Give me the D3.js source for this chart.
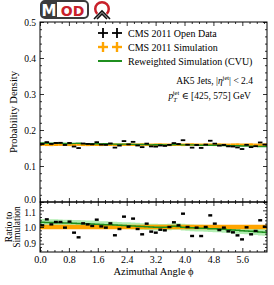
<!DOCTYPE html>
<html>
<head>
<meta charset="utf-8">
<script src="https://cdn.jsdelivr.net/npm/d3@7"></script>
<style>
body { margin: 0; background: #fff; }
svg { display: block; }
text { font-family: "Liberation Serif", "DejaVu Serif", serif; fill: #000; }
</style>
</head>
<body>
<svg id="chart" width="274" height="285"></svg>
<script>
const chart = d3.select("#chart");

// histogram: 50 bins over [0, 2pi]
const binCount = 50;
const phiMax = 2 * Math.PI;

const simDensity = [
	0.1595, 0.1590, 0.1588, 0.1592, 0.1596, 0.1591, 0.1589, 0.1594, 0.1597, 0.1590,
	0.1588, 0.1593, 0.1591, 0.1589, 0.1595, 0.1592, 0.1590, 0.1587, 0.1593, 0.1596,
	0.1591, 0.1589, 0.1594, 0.1590, 0.1588, 0.1592, 0.1595, 0.1590, 0.1587, 0.1591,
	0.1594, 0.1589, 0.1592, 0.1596, 0.1590, 0.1588, 0.1593, 0.1591, 0.1589, 0.1594,
	0.1590, 0.1587, 0.1592, 0.1595, 0.1589, 0.1591, 0.1594, 0.1588, 0.1590, 0.1593
];
const dataDensity = [
	0.1611, 0.1663, 0.1613, 0.1640, 0.1644, 0.1585, 0.1640, 0.1540, 0.1498, 0.1625,
	0.1613, 0.1603, 0.1661, 0.1595, 0.1589, 0.1627, 0.1511, 0.1568, 0.1692, 0.1599,
	0.1671, 0.1570, 0.1524, 0.1622, 0.1544, 0.1538, 0.1569, 0.1558, 0.1587, 0.1636,
	0.1610, 0.1716, 0.1592, 0.1510, 0.1584, 0.1502, 0.1593, 0.1702, 0.1621, 0.1565,
	0.1584, 0.1546, 0.1541, 0.1515, 0.1471, 0.1588, 0.1524, 0.1550, 0.1654, 0.1596
];
const reweightedDensity = [
	0.1640, 0.1633, 0.1631, 0.1633, 0.1636, 0.1629, 0.1627, 0.1629, 0.1631, 0.1622,
	0.1618, 0.1622, 0.1618, 0.1613, 0.1617, 0.1613, 0.1609, 0.1603, 0.1607, 0.1609,
	0.1601, 0.1597, 0.1599, 0.1593, 0.1588, 0.1590, 0.1592, 0.1587, 0.1587, 0.1597,
	0.1599, 0.1587, 0.1587, 0.1588, 0.1580, 0.1577, 0.1580, 0.1575, 0.1572, 0.1575,
	0.1568, 0.1562, 0.1563, 0.1563, 0.1554, 0.1553, 0.1553, 0.1544, 0.1542, 0.1542
];
const dataErr = 0.0012;
const simErr = 0.0021;
const reweightedErr = 0.0032;

const xTicks = [0, 0.8, 1.6, 2.4, 3.2, 4.0, 4.8, 5.6];
const yTicks = [0, 0.1, 0.2, 0.3, 0.4, 0.5];
const ratioTicks = [0.9, 1.0, 1.1];
const legendLabels = ["CMS 2011 Open Data", "CMS 2011 Simulation", "Reweighted Simulation (CVU)"];

const left = 40, right = 267, mainTop = 22, mainBottom = 202, ratioBottom = 252;
const orange = "#ffa500", green = "#1f8f1f", lightGreen = "#9de89d";

const x = d3.scaleLinear().domain([0, phiMax]).range([left, right]);
const y = d3.scaleLinear().domain([0, 0.5]).range([mainBottom, mainTop]);
const yr = d3.scaleLinear().domain([0.85, 1.15]).range([ratioBottom, mainBottom]);

const edges = d3.range(binCount + 1).map(i => i * phiMax / binCount);
const bins = simDensity.map((s, i) => ({
	x0: edges[i], x1: edges[i + 1], xc: (edges[i] + edges[i + 1]) / 2,
	sim: s, data: dataDensity[i], rew: reweightedDensity[i]
}));

// clip paths
const defs = chart.append("defs");
defs.append("clipPath").attr("id", "clipMain").append("rect")
	.attr("x", left).attr("y", mainTop).attr("width", right - left).attr("height", mainBottom - mainTop);
defs.append("clipPath").attr("id", "clipRatio").append("rect")
	.attr("x", left).attr("y", mainBottom).attr("width", right - left).attr("height", ratioBottom - mainBottom);

// ---- main panel ----
const main = chart.append("g").attr("clip-path", "url(#clipMain)");

function crosses(g, key, err, color, hw, vw) {
	const sel = g.append("g").selectAll("g").data(bins).enter().append("g");
	sel.append("line")
		.attr("x1", d => x(d.x0)).attr("x2", d => x(d.x1))
		.attr("y1", d => y(d[key])).attr("y2", d => y(d[key]))
		.attr("stroke", color).attr("stroke-width", hw);
	sel.append("line")
		.attr("x1", d => x(d.xc)).attr("x2", d => x(d.xc))
		.attr("y1", d => y(d[key] - err)).attr("y2", d => y(d[key] + err))
		.attr("stroke", color).attr("stroke-width", vw);
}

crosses(main, "sim", simErr, orange, 2.6, 1.6);

const stepPts = key => bins.flatMap(d => [[d.x0, d[key]], [d.x1, d[key]]]);
main.append("path")
	.attr("d", d3.line().x(p => x(p[0])).y(p => y(p[1]))(stepPts("rew")))
	.attr("fill", "none").attr("stroke", green).attr("stroke-width", 1.4);

crosses(main, "data", dataErr, "#000", 1.8, 1.2);

// ---- ratio panel ----
const ratio = chart.append("g").attr("clip-path", "url(#clipRatio)");
const ratioPts = bins.flatMap(d => [
	{ x: d.x0, rew: d.rew / d.sim, rerr: reweightedErr / d.sim, serr: simErr / d.sim },
	{ x: d.x1, rew: d.rew / d.sim, rerr: reweightedErr / d.sim, serr: simErr / d.sim }
]);

ratio.append("path")
	.attr("d", d3.area().x(p => x(p.x)).y0(p => yr(p.rew - p.rerr)).y1(p => yr(p.rew + p.rerr))(ratioPts))
	.attr("fill", lightGreen).attr("opacity", 0.8);

ratio.append("path")
	.attr("d", d3.area().x(p => x(p.x)).y0(p => yr(1 - p.serr)).y1(p => yr(1 + p.serr))(ratioPts))
	.attr("fill", orange);

ratio.append("path")
	.attr("d", d3.line().x(p => x(p.x)).y(p => yr(p.rew))(ratioPts))
	.attr("fill", "none").attr("stroke", green).attr("stroke-width", 1.5);

ratio.append("g").selectAll("rect").data(bins).enter().append("rect")
	.attr("x", d => x(d.x0) + 0.3)
	.attr("width", d => x(d.x1) - x(d.x0) - 0.6)
	.attr("y", d => yr(d.data / d.sim) - 1.2)
	.attr("height", 2.4)
	.attr("fill", "#000");

// ---- frames and ticks ----
function ticks(gen, tx, ty, vals, size, fmt) {
	const g = chart.append("g").attr("transform", "translate(" + tx + "," + ty + ")")
		.call(gen.tickValues(vals).tickSizeInner(-size).tickSizeOuter(0).tickPadding(4).tickFormat(fmt || (() => "")));
	g.select(".domain").remove();
	g.selectAll("line").attr("stroke", "#000").attr("stroke-width", 0.8);
	g.selectAll("text").attr("font-family", "Liberation Serif").attr("font-size", 9.5).attr("fill", "#000");
	return g;
}

const xMinor = d3.range(0, 32).filter(i => i % 4 !== 0).map(i => i * 0.2);
const yMinor = d3.range(0, 26).filter(i => i % 5 !== 0).map(i => i * 0.02);
const rMinor = d3.range(43, 58).filter(i => i % 5 !== 0).map(i => i * 0.02);
const fmt1 = d3.format(".1f");

// main panel
const yAxisG = ticks(d3.axisLeft(y), left, 0, yTicks, 4, fmt1);
yAxisG.selectAll("text").filter(d => d === 0).attr("dy", "0.1em");
ticks(d3.axisLeft(y), left, 0, yMinor, 2);
ticks(d3.axisRight(y), right, 0, yTicks, 4);
ticks(d3.axisRight(y), right, 0, yMinor, 2);
ticks(d3.axisTop(x), 0, mainTop, xTicks, 4);
ticks(d3.axisTop(x), 0, mainTop, xMinor, 2);
ticks(d3.axisBottom(x), 0, mainBottom, xTicks, 4);
ticks(d3.axisBottom(x), 0, mainBottom, xMinor, 2);

// ratio panel
const rAxisG = ticks(d3.axisLeft(yr), left, 0, ratioTicks, 4, fmt1);
rAxisG.selectAll("text").filter(d => d === 1.1).attr("dy", "0.5em");
ticks(d3.axisLeft(yr), left, 0, rMinor, 2);
ticks(d3.axisRight(yr), right, 0, ratioTicks, 4);
ticks(d3.axisRight(yr), right, 0, rMinor, 2);
ticks(d3.axisTop(x), 0, mainBottom, xTicks, 4);
ticks(d3.axisTop(x), 0, mainBottom, xMinor, 2);
ticks(d3.axisBottom(x), 0, ratioBottom, xTicks, 4, fmt1)
	.selectAll("text").attr("font-size", 10);
ticks(d3.axisBottom(x), 0, ratioBottom, xMinor, 2);

chart.append("rect").attr("x", left).attr("y", mainTop).attr("width", right - left).attr("height", mainBottom - mainTop)
	.attr("fill", "none").attr("stroke", "#000").attr("stroke-width", 1);
chart.append("rect").attr("x", left).attr("y", mainBottom).attr("width", right - left).attr("height", ratioBottom - mainBottom)
	.attr("fill", "none").attr("stroke", "#000").attr("stroke-width", 1);

// ---- axis labels ----
chart.append("text").attr("transform", "translate(17," + ((mainTop + mainBottom) / 2) + ") rotate(-90)")
	.attr("text-anchor", "middle").attr("font-size", 10.5).text("Probability Density");
const rl = chart.append("text").attr("transform", "translate(0," + ((mainBottom + ratioBottom) / 2) + ") rotate(-90)")
	.attr("text-anchor", "middle").attr("font-size", 9.5);
rl.append("tspan").attr("x", 0).attr("y", 11.5).text("Ratio to");
rl.append("tspan").attr("x", 0).attr("y", 19.5).text("Simulation");
chart.append("text").attr("x", (left + right) / 2).attr("y", 275).attr("text-anchor", "middle")
	.attr("font-size", 10.5).text("Azimuthal Angle \u03d5");

// ---- legend ----
const legend = chart.append("g");
const legendY = [33, 47, 61];
legendLabels.forEach((lab, i) => {
	legend.append("text").attr("x", 128).attr("y", legendY[i] + 3.5).attr("font-size", 10).text(lab);
});
[["#000", 1.8], [orange, 2.4]].forEach((c, i) => {
	[103, 117].forEach(cx => {
		legend.append("line").attr("x1", cx - 5).attr("x2", cx + 5).attr("y1", legendY[i]).attr("y2", legendY[i])
			.attr("stroke", c[0]).attr("stroke-width", c[1]);
		legend.append("line").attr("x1", cx).attr("x2", cx).attr("y1", legendY[i] - 5).attr("y2", legendY[i] + 5)
			.attr("stroke", c[0]).attr("stroke-width", c[1]);
	});
});
legend.append("line").attr("x1", 98).attr("x2", 122).attr("y1", legendY[2]).attr("y2", legendY[2])
	.attr("stroke", green).attr("stroke-width", 2);

// ---- annotation ----
const a1 = chart.append("text").attr("x", 253).attr("y", 84).attr("text-anchor", "end").attr("font-size", 9.5);
a1.append("tspan").text("AK5 Jets, |");
a1.append("tspan").attr("font-style", "italic").text("\u03b7");
a1.append("tspan").attr("font-size", 6.5).attr("dy", -4).text("jet");
a1.append("tspan").attr("dy", 4).text("| < 2.4");
const a2 = chart.append("text").attr("x", 251).attr("y", 99).attr("text-anchor", "end").attr("font-size", 9.5);
a2.append("tspan").attr("font-style", "italic").text("p");
a2.append("tspan").attr("font-size", 6.5).attr("font-style", "italic").attr("dy", 2.5).text("T");
a2.append("tspan").attr("font-size", 6.5).attr("dx", -4).attr("dy", -6.5).text("jet");
a2.append("tspan").attr("dy", 4).text(" \u2208 [425, 575] GeV");

// ---- logo ----
const logo = chart.append("g");
logo.append("rect").attr("x", 41).attr("y", 1).attr("width", 47).attr("height", 17).attr("rx", 4)
	.attr("fill", "#fff").attr("stroke", "#3b3b3b").attr("stroke-width", 2);
logo.append("path").attr("d", "M41,5 a4,4 0 0 1 4,-4 H57 V18 H45 a4,4 0 0 1 -4,-4 Z").attr("fill", "#3b3b3b");
logo.append("text").attr("x", 49).attr("y", 15.5).attr("text-anchor", "middle")
	.style("font-family", "'DejaVu Sans', sans-serif").attr("font-weight", "bold").attr("font-size", 15)
	.style("fill", "#fff").text("M");
logo.append("text").attr("x", 72.5).attr("y", 15.5).attr("text-anchor", "middle")
	.style("font-family", "'DejaVu Sans', sans-serif").attr("font-weight", "bold").attr("font-size", 14)
	.style("fill", "#c8202a").text("OD");
logo.append("path").attr("d", d3.arc().innerRadius(5.5).outerRadius(8).startAngle(Math.PI * 1.25).endAngle(Math.PI * 2.75)())
	.attr("transform", "translate(102,9)").attr("fill", "#c8202a");
logo.append("path").attr("d", "M94,19 L102,11 L110,19 M97,19 L102,14 L107,19")
	.attr("fill", "none").attr("stroke", "#111").attr("stroke-width", 1.6);
</script>
</body>
</html>
